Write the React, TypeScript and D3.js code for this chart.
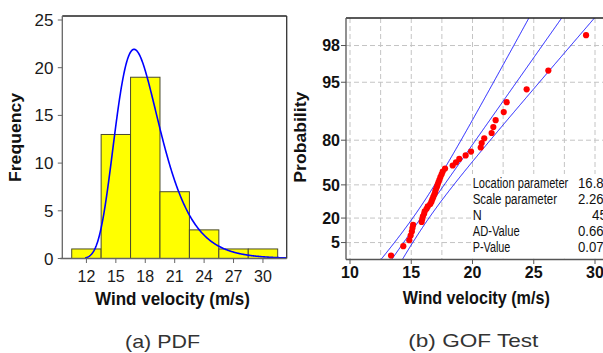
import React from "react";
import * as d3 from "d3";

// ---------- data ----------
const binCenters = [12, 15, 18, 21, 24, 27, 30];
const binCounts = [1, 13, 19, 7, 3, 1, 1];
const binWidth = 3;
const freqTicks = [0, 5, 10, 15, 20, 25];
const pdfXTicks = [12, 15, 18, 21, 24, 27, 30];

const gofVelocity = [
  13.35, 14.35, 14.84, 14.95, 15.05, 15.1, 15.15, 15.85, 15.9, 15.95, 16.05,
  16.1, 16.25, 16.35, 16.55, 16.65, 16.72, 16.8, 16.88, 16.95, 17.0, 17.08,
  17.15, 17.22, 17.3, 17.38, 17.48, 17.57, 17.76, 18.38, 18.65, 18.92, 19.44,
  19.88, 20.67, 20.75, 20.96, 21.56, 21.7, 21.89, 22.55, 22.79, 24.42, 26.19,
  29.27,
];
const probTicks = [5, 20, 50, 80, 95, 98];
const gofXTicks = [10, 15, 20, 25, 30];
const gofGridX = [10, 12.5, 15, 17.5, 20, 22.5, 25, 27.5, 30, 32.5];

const locationParam = 16.86;
const scaleParam = 2.265;
const nObs = 45;
const statLabels = ["Location parameter", "Scale parameter", "N", "AD-Value", "P-Value"];
const statValues = ["16.86", "2.265", "45", "0.668", "0.079"];
const statLabelWidths = [95.6, 84.4, 9, 47, 37.7];

const FONT = "'Liberation Sans', Arial, sans-serif";

// Gumbel (largest extreme value) helpers
const zOf = (p: number) => -Math.log(-Math.log(p));
const gumbelPdf = (x: number) => {
  const z = (x - locationParam) / scaleParam;
  return (1 / scaleParam) * Math.exp(-(z + Math.exp(-z)));
};

export default function App() {
  // ---- left panel (PDF) ----
  const xL = d3.scaleLinear().domain([9.54, 32.42]).range([62.3, 286.7]);
  const yL = d3.scaleLinear().domain([0, 25]).range([258.5, 20]);
  const leftTop = 16;

  const pdfLine = d3
    .line<number>()
    .x((v) => xL(v))
    .y((v) => yL(gumbelPdf(v) * nObs * binWidth))
    .curve(d3.curveLinear);
  const pdfSamples = d3.range(11.86, 32.42, 0.05);

  // ---- right panel (probability plot) ----
  const xR = d3.scaleLinear().domain([10, 30]).range([350, 595]);
  const zMin = zOf(0.01);
  const zMax = zOf(0.99);
  const yR = d3.scaleLinear().domain([zMin, zMax]).range([259.5, 18]);
  const rLeft = 346;
  const rRight = 640;
  const rTop = 18;
  const rBottom = 259.5;

  const zs = d3.range(zMin - 0.05, zMax + 0.05, 0.02);
  const se = (z: number) =>
    (scaleParam / Math.sqrt(nObs)) *
    Math.sqrt(1.1087 + 2 * 0.257 * z + 0.6079 * z * z);
  const lineZ = (f: (z: number) => number) =>
    d3
      .line<number>()
      .x((z) => xR(f(z)))
      .y((z) => yR(z))(zs) || "";
  const fitPath = lineZ((z) => locationParam + scaleParam * z);
  const lowPath = lineZ((z) => locationParam + scaleParam * z - 1.96 * se(z));
  const highPath = lineZ((z) => locationParam + scaleParam * z + 1.96 * se(z));

  const n = gofVelocity.length;
  const points = gofVelocity.map((v, i) => ({
    x: xR(v),
    y: yR(zOf((i + 1 - 0.3) / (n + 0.4))),
  }));

  const tableTop = 174;
  const rowBase = [188.3, 204.3, 220.2, 236.2, 252.4];

  return (
    <svg
      width={603}
      height={353}
      style={{ position: "absolute", left: 0, top: 0, background: "#fff" }}
      fontFamily={FONT}
    >
      <defs>
        <clipPath id="clipL">
          <rect x={xL.range()[0]} y={leftTop} width={xL.range()[1] - xL.range()[0]} height={yL(0) - leftTop} />
        </clipPath>
        <clipPath id="clipR">
          <rect x={rLeft} y={rTop} width={rRight - rLeft} height={rBottom - rTop} />
        </clipPath>
      </defs>
      <rect x={0} y={0} width={603} height={353} fill="#fff" />

      {/* ================= LEFT PANEL ================= */}
      <g>
        {binCenters.map((c, i) => (
          <rect
            key={c}
            x={xL(c - binWidth / 2)}
            y={yL(binCounts[i])}
            width={xL(c + binWidth / 2) - xL(c - binWidth / 2)}
            height={yL(0) - yL(binCounts[i])}
            fill="#ffff00"
            stroke="#4b4b2e"
            strokeWidth={1}
          />
        ))}
        <path
          d={pdfLine(pdfSamples) || ""}
          fill="none"
          stroke="#0000ff"
          strokeWidth={1.6}
          clipPath="url(#clipL)"
        />
        {/* frame */}
        <line x1={xL.range()[0]} x2={xL.range()[1]} y1={leftTop} y2={leftTop} stroke="#222" strokeWidth={1.5} />
        <line x1={xL.range()[1]} x2={xL.range()[1]} y1={leftTop} y2={yL(0)} stroke="#333" strokeWidth={1.3} />
        <line x1={xL.range()[0]} x2={xL.range()[0]} y1={leftTop} y2={yL(0)} stroke="#666" strokeWidth={1.3} />
        <line x1={xL.range()[0] - 2} x2={xL.range()[1]} y1={yL(0)} y2={yL(0)} stroke="#666" strokeWidth={1.3} />
        {freqTicks.map((t) => (
          <g key={t}>
            <line x1={xL.range()[0] - 4.5} x2={xL.range()[0]} y1={yL(t)} y2={yL(t)} stroke="#666" strokeWidth={1} />
            <text x={53.5} y={yL(t) + 6} textAnchor="end" fontSize={17} fill="#1a1a1a">
              {t}
            </text>
          </g>
        ))}
        {pdfXTicks.map((t) => (
          <g key={t}>
            <line x1={xL(t)} x2={xL(t)} y1={yL(0)} y2={yL(0) + 4.5} stroke="#666" strokeWidth={1} />
            <text x={xL(t)} y={281.5} textAnchor="middle" fontSize={16} fill="#1a1a1a">
              {t}
            </text>
          </g>
        ))}
        <text
          x={172.5}
          y={305}
          textAnchor="middle"
          fontSize={18}
          fontWeight="bold"
          fill="#111"
          textLength={155}
          lengthAdjust="spacingAndGlyphs"
        >
          Wind velocity (m/s)
        </text>
        <text
          transform="translate(20.5,137.5) rotate(-90)"
          textAnchor="middle"
          fontSize={16.5}
          fontWeight="bold"
          fill="#111"
          textLength={89}
          lengthAdjust="spacingAndGlyphs"
        >
          Frequency
        </text>
        <text
          x={162.5}
          y={347.5}
          textAnchor="middle"
          fontSize={18.5}
          fill="#333"
          textLength={75}
          lengthAdjust="spacingAndGlyphs"
        >
          (a) PDF
        </text>
      </g>

      {/* ================= RIGHT PANEL ================= */}
      <g>
        {/* grid */}
        <g clipPath="url(#clipR)">
          {gofGridX.map((g) => (
            <line key={"gx" + g} x1={xR(g)} x2={xR(g)} y1={rTop} y2={rBottom} stroke="#c4c4c4" strokeWidth={1} strokeDasharray="5,3" />
          ))}
          {probTicks.map((p) => (
            <line key={"gy" + p} x1={rLeft} x2={rRight} y1={yR(zOf(p / 100))} y2={yR(zOf(p / 100))} stroke="#c4c4c4" strokeWidth={1} strokeDasharray="5,3" />
          ))}
        </g>
        {/* fit line and confidence band */}
        <g clipPath="url(#clipR)" fill="none" stroke="#1a1aff" strokeWidth={1}>
          <path d={lowPath} />
          <path d={fitPath} />
          <path d={highPath} />
        </g>
        {points.map((p, i) => (
          <circle key={i} cx={p.x} cy={p.y} r={3.1} fill="#ff0000" />
        ))}
        {/* stats table */}
        <rect x={471} y={tableTop} width={rRight - 471} height={rBottom - tableTop - 0.8} fill="#fff" />
        {statLabels.map((s, i) => (
          <g key={s}>
            <text
              x={472.7}
              y={rowBase[i]}
              fontSize={14}
              fill="#111"
              textLength={statLabelWidths[i]}
              lengthAdjust="spacingAndGlyphs"
            >
              {s}
            </text>
            <text
              x={statValues[i].length > 2 ? 611 : 607}
              y={rowBase[i]}
              fontSize={14}
              fill="#111"
              textAnchor="end"
              textLength={statValues[i].length > 2 ? 33 : 15}
              lengthAdjust="spacingAndGlyphs"
            >
              {statValues[i]}
            </text>
          </g>
        ))}
        {/* frame */}
        <line x1={rLeft} x2={rRight} y1={rTop} y2={rTop} stroke="#222" strokeWidth={1.5} />
        <line x1={rLeft} x2={rLeft} y1={rTop} y2={rBottom} stroke="#555" strokeWidth={1.3} />
        <line x1={rLeft} x2={rRight} y1={rBottom} y2={rBottom} stroke="#555" strokeWidth={1.5} />
        {probTicks.map((p) => (
          <g key={"pt" + p}>
            <line x1={rLeft - 5} x2={rLeft} y1={yR(zOf(p / 100))} y2={yR(zOf(p / 100))} stroke="#555" strokeWidth={1} />
            <text x={340} y={yR(zOf(p / 100)) + 5.8} textAnchor="end" fontSize={16} fontWeight="bold" fill="#111">
              {p}
            </text>
          </g>
        ))}
        {gofXTicks.map((t) => (
          <g key={"xt" + t}>
            <line x1={xR(t)} x2={xR(t)} y1={rBottom} y2={rBottom + 4.5} stroke="#555" strokeWidth={1} />
            <text x={xR(t)} y={278.3} textAnchor="middle" fontSize={16} fontWeight="bold" fill="#111">
              {t}
            </text>
          </g>
        ))}
        <text
          x={476.3}
          y={303.5}
          textAnchor="middle"
          fontSize={18}
          fontWeight="bold"
          fill="#111"
          textLength={147}
          lengthAdjust="spacingAndGlyphs"
        >
          Wind velocity (m/s)
        </text>
        <text
          transform="translate(306,137.2) rotate(-90)"
          textAnchor="middle"
          fontSize={17}
          fontWeight="bold"
          fill="#111"
          textLength={91}
          lengthAdjust="spacingAndGlyphs"
        >
          Probability
        </text>
        <text
          x={473.3}
          y={347}
          textAnchor="middle"
          fontSize={18.5}
          fill="#333"
          textLength={130}
          lengthAdjust="spacingAndGlyphs"
        >
          (b) GOF Test
        </text>
      </g>
    </svg>
  );
}
